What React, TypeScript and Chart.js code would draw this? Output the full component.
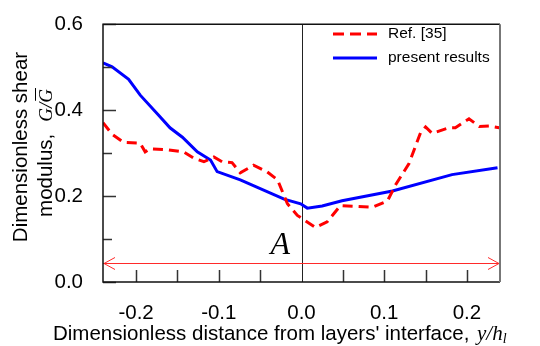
import React, { useEffect, useRef } from "react";
import { Chart, registerables } from "chart.js";

Chart.register(...registerables);

// Ref. [35] (dashed red)
const refX = [-0.24, -0.229, -0.215, -0.195, -0.189, -0.183, -0.163, -0.1425, -0.13, -0.118, -0.106, -0.096, -0.084, -0.074, -0.058, -0.042, -0.029, -0.017, -0.005, 0.017, 0.031, 0.047, 0.086, 0.104, 0.114, 0.13, 0.144, 0.15, 0.158, 0.178, 0.186, 0.2025, 0.215, 0.227, 0.239];
const refY = [0.371, 0.344, 0.325, 0.323, 0.303, 0.31, 0.308, 0.303, 0.288, 0.28, 0.291, 0.28, 0.278, 0.254, 0.272, 0.257, 0.238, 0.182, 0.155, 0.127, 0.14, 0.178, 0.174, 0.189, 0.227, 0.276, 0.348, 0.361, 0.346, 0.359, 0.359, 0.38, 0.362, 0.363, 0.359];

// present results (solid blue)
const presentX = [-0.24, -0.229, -0.209, -0.195, -0.173, -0.159, -0.144, -0.126, -0.11, -0.102, -0.074, -0.021, -0.001, 0.007, 0.025, 0.049, 0.11, 0.182, 0.237];
const presentY = [0.51, 0.501, 0.472, 0.435, 0.389, 0.359, 0.337, 0.303, 0.284, 0.257, 0.238, 0.193, 0.182, 0.172, 0.177, 0.189, 0.212, 0.25, 0.266];

const xTicks = [-0.2, -0.15, -0.1, -0.05, 0, 0.05, 0.1, 0.15, 0.2];
const yTicks = [0, 0.1, 0.2, 0.3, 0.4, 0.5, 0.6];
const seriesNames = ["Ref. [35]", "present results"];
const arrowLevel = 0.044;

const SANS = '"Liberation Sans", Arial, sans-serif';
const SERIF = '"Liberation Serif", "Times New Roman", serif';
const RED = "#ff0000";
const BLUE = "#0000ff";

const isMajor = (v: number) => Math.abs(Math.round(v * 10) - v * 10) < 1e-6;
const isEvenTenth = (v: number) => Math.round(v * 10) % 2 === 0;

const decor = {
  id: "decor",
  beforeDatasetsDraw(chart: any) {
    const { ctx, chartArea, scales } = chart;
    const { left, right, top, bottom } = chartArea;
    const x0 = Math.round(scales.x.getPixelForValue(0)) + 0.5;
    ctx.save();
    // interface line
    ctx.strokeStyle = "#222";
    ctx.lineWidth = 1;
    ctx.beginPath();
    ctx.moveTo(x0, top);
    ctx.lineTo(x0, bottom);
    ctx.stroke();

    // double-headed arrow
    const ya = Math.round(scales.y.getPixelForValue(arrowLevel)) + 0.5;
    ctx.strokeStyle = "#ff2a2a";
    ctx.lineWidth = 1;
    ctx.beginPath();
    ctx.moveTo(left, ya);
    ctx.lineTo(right, ya);
    ctx.moveTo(left + 12, ya - 6);
    ctx.lineTo(left + 1, ya);
    ctx.lineTo(left + 12, ya + 6);
    ctx.moveTo(right - 12, ya - 6);
    ctx.lineTo(right - 1, ya);
    ctx.lineTo(right - 12, ya + 6);
    ctx.stroke();

    ctx.fillStyle = "#000";
    ctx.font = `italic 32px ${SERIF}`;
    ctx.textAlign = "left";
    ctx.textBaseline = "alphabetic";
    ctx.fillText("A", x0 - 32, ya - 10);
    ctx.restore();
  },
  afterDraw(chart: any) {
    const { ctx, chartArea, scales } = chart;
    const { left, right, top, bottom } = chartArea;
    ctx.save();

    // inward tick marks
    ctx.strokeStyle = "#333";
    ctx.lineWidth = 1.5;
    ctx.beginPath();
    for (const v of xTicks) {
      if (v === 0) continue;
      const px = Math.round(scales.x.getPixelForValue(v)) + 0.5;
      ctx.moveTo(px, bottom);
      ctx.lineTo(px, bottom - 12);
    }
    for (const v of yTicks) {
      const py = Math.round(scales.y.getPixelForValue(v)) + 0.5;
      const len = isEvenTenth(v) ? 13 : 9;
      ctx.moveTo(left, py);
      ctx.lineTo(left + len, py);
    }
    ctx.stroke();

    // frame
    ctx.strokeStyle = "#111";
    ctx.lineWidth = 1.5;
    ctx.beginPath();
    ctx.moveTo(right, bottom);
    ctx.lineTo(left, bottom);
    ctx.lineTo(left, top);
    ctx.lineTo(right, top);
    ctx.stroke();
    ctx.strokeStyle = "#777";
    ctx.lineWidth = 2;
    ctx.beginPath();
    ctx.moveTo(right, top);
    ctx.lineTo(right, bottom);
    ctx.stroke();

    // legend
    const lx0 = 333;
    const lx1 = 377;
    const rows = [
      { y: 34, color: RED, dash: [11, 6] },
      { y: 58, color: BLUE, dash: [] as number[] },
    ];
    rows.forEach((r, i) => {
      ctx.strokeStyle = r.color;
      ctx.lineWidth = 3;
      ctx.setLineDash(r.dash);
      ctx.beginPath();
      ctx.moveTo(lx0, r.y);
      ctx.lineTo(lx1, r.y);
      ctx.stroke();
      ctx.setLineDash([]);
      ctx.fillStyle = "#000";
      ctx.font = `15.5px ${SANS}`;
      ctx.textAlign = "left";
      ctx.textBaseline = "middle";
      ctx.fillText(seriesNames[i], 388, r.y);
    });

    // x axis title
    ctx.textBaseline = "alphabetic";
    ctx.textAlign = "left";
    ctx.fillStyle = "#000";
    let tx = 53;
    const tb = 340;
    ctx.font = `20.5px ${SANS}`;
    const xs = "Dimensionless distance from layers' interface, ";
    ctx.fillText(xs, tx, tb);
    tx += ctx.measureText(xs).width + 2;
    ctx.font = `italic 21px ${SERIF}`;
    ctx.fillText("y/h", tx, tb);
    tx += ctx.measureText("y/h").width;
    ctx.font = `italic 14px ${SERIF}`;
    ctx.fillText("l", tx, tb + 3);

    // y axis title (rotated, two lines)
    ctx.save();
    ctx.translate(27, 147);
    ctx.rotate(-Math.PI / 2);
    ctx.font = `20.5px ${SANS}`;
    ctx.textAlign = "center";
    ctx.fillText("Dimensionless shear", 0, 0);
    ctx.restore();

    ctx.save();
    ctx.translate(52, 153);
    ctx.rotate(-Math.PI / 2);
    const s1 = "modulus,";
    const gap = 12;
    ctx.font = `20.5px ${SANS}`;
    const w1 = ctx.measureText(s1).width;
    ctx.font = `italic 19px ${SERIF}`;
    const wG = ctx.measureText("G").width;
    const wS = ctx.measureText("/").width;
    const total = w1 + gap + wG * 2 + wS;
    let ux = -total / 2;
    ctx.textAlign = "left";
    ctx.font = `20.5px ${SANS}`;
    ctx.fillText(s1, ux, 0);
    ux += w1 + gap;
    ctx.font = `italic 19px ${SERIF}`;
    ctx.fillText("G/", ux, 0);
    ux += wG + wS;
    ctx.fillText("G", ux, 0);
    ctx.strokeStyle = "#000";
    ctx.lineWidth = 1;
    ctx.beginPath();
    ctx.moveTo(ux + 2, -16.5);
    ctx.lineTo(ux + wG + 1, -16.5);
    ctx.stroke();
    ctx.restore();

    ctx.restore();
  },
};

export default function App() {
  const ref = useRef<HTMLCanvasElement>(null);

  useEffect(() => {
    const chart = new Chart(ref.current as HTMLCanvasElement, {
      type: "line",
      data: {
        datasets: [
          {
            label: seriesNames[0],
            data: refX.map((x, i) => ({ x, y: refY[i] })),
            borderColor: RED,
            borderWidth: 3,
            borderDash: [10, 6],
            pointRadius: 0,
            tension: 0,
            fill: false,
          },
          {
            label: seriesNames[1],
            data: presentX.map((x, i) => ({ x, y: presentY[i] })),
            borderColor: BLUE,
            borderWidth: 3,
            pointRadius: 0,
            tension: 0,
            fill: false,
          },
        ],
      },
      options: {
        responsive: false,
        animation: false,
        layout: { padding: { left: 0, top: 17, right: 40, bottom: 0 } },
        plugins: {
          legend: { display: false },
          tooltip: { enabled: false },
          title: { display: false },
        },
        scales: {
          x: {
            type: "linear",
            min: -0.24,
            max: 0.24,
            grid: { display: false },
            border: { display: false },
            afterBuildTicks: (s: any) => {
              s.ticks = xTicks.map((value) => ({ value }));
            },
            afterFit: (s: any) => {
              s.height = 64;
            },
            ticks: {
              autoSkip: false,
              maxRotation: 0,
              padding: 11,
              color: "#000",
              font: { family: SANS, size: 20.5 },
              callback: (v: any) => (isMajor(Number(v)) ? Number(v).toFixed(1) : ""),
            },
          },
          y: {
            type: "linear",
            min: 0,
            max: 0.6,
            grid: { display: false },
            border: { display: false },
            afterBuildTicks: (s: any) => {
              s.ticks = yTicks.map((value) => ({ value }));
            },
            afterFit: (s: any) => {
              s.width = 103;
            },
            ticks: {
              autoSkip: false,
              padding: 12,
              color: "#000",
              font: { family: SANS, size: 20.5 },
              callback: (v: any) => (isEvenTenth(Number(v)) ? Number(v).toFixed(1) : ""),
            },
          },
        },
      },
      plugins: [decor],
    });
    return () => chart.destroy();
  }, []);

  return (
    <div style={{ position: "absolute", left: 0, top: 0, width: 540, height: 346, background: "#fff" }}>
      <canvas ref={ref} width={540} height={346} style={{ display: "block" }} />
    </div>
  );
}
